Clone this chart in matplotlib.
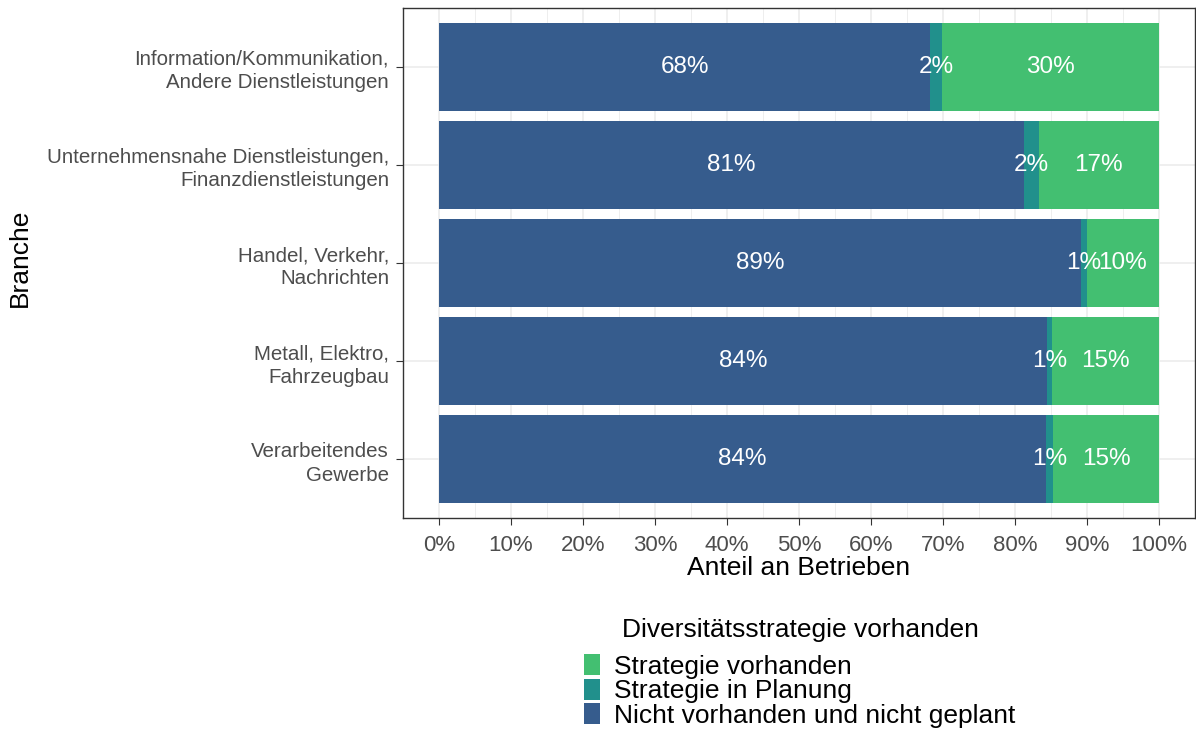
import numpy as np
import matplotlib
matplotlib.use("Agg")
import matplotlib.pyplot as plt
from matplotlib.ticker import MultipleLocator, FuncFormatter

plt.rcParams['font.family'] = ['Liberation Sans', 'DejaVu Sans']

# categories, top to bottom
branchen = [
    "Information/Kommunikation,\nAndere Dienstleistungen",
    "Unternehmensnahe Dienstleistungen,\nFinanzdienstleistungen",
    "Handel, Verkehr,\nNachrichten",
    "Metall, Elektro,\nFahrzeugbau",
    "Verarbeitendes\nGewerbe",
]
# shares in percent
nicht_vorhanden = [68.2, 81.3, 89.1, 84.4, 84.3]
in_planung = [1.7, 2.0, 0.9, 0.8, 1.0]
vorhanden = [30.1, 16.7, 10.0, 14.8, 14.7]

series = [
    ("Nicht vorhanden und nicht geplant", nicht_vorhanden, "#365C8D"),
    ("Strategie in Planung", in_planung, "#21908C"),
    ("Strategie vorhanden", vorhanden, "#43BF71"),
]

fig = plt.figure(figsize=(11.96, 7.29), dpi=100)
ax = fig.add_axes([403 / 1196, 211 / 729, 792 / 1196, 510 / 729])

ypos = np.arange(len(branchen))[::-1] + 1
left = np.zeros(len(branchen))
handles = []
for name, vals, col in series:
    vals = np.array(vals)
    b = ax.barh(ypos, vals, left=left, height=0.9, color=col, label=name, zorder=2)
    handles.append(b)
    for y, l, v in zip(ypos, left, vals):
        ax.text(l + v / 2, y, f"{round(v)}%", color="white", fontsize=17.5,
                ha="center", va="center", zorder=3)
    left = left + vals

ax.set_xlim(-5, 105)
ax.set_ylim(0.4, len(branchen) + 0.6)
ax.xaxis.set_major_locator(MultipleLocator(10))
ax.xaxis.set_minor_locator(MultipleLocator(5))
ax.xaxis.set_major_formatter(FuncFormatter(lambda v, p: f"{v:.0f}%"))
ax.set_yticks(ypos)
ax.set_yticklabels(branchen, linespacing=1.3)

ax.grid(which="major", color="#EBEBEB", linewidth=1.1, zorder=0)
ax.grid(which="minor", axis="x", color="#EBEBEB", linewidth=0.6, zorder=0)
ax.set_axisbelow(True)
for s in ax.spines.values():
    s.set_color("#333333")
    s.set_linewidth(1.0)

ax.tick_params(axis="x", which="major", labelsize=16, colors="#333333",
               labelcolor="#4D4D4D", length=5, pad=7)
ax.tick_params(axis="x", which="minor", length=0)
ax.tick_params(axis="y", labelsize=14.8, colors="#333333",
               labelcolor="#4D4D4D", length=5, pad=5)

ax.set_xlabel("Anteil an Betrieben", fontsize=19, color="black", labelpad=0)
fig.text(20 / 1196, 1 - 258 / 729, "Branche", rotation=90, fontsize=19,
         ha="center", va="center")

leg = fig.legend(handles[::-1], [h.get_label() for h in handles[::-1]],
                 loc="upper center", bbox_to_anchor=(800 / 1196, 1 - 607 / 729),
                 frameon=False, fontsize=19, title="Diversitätsstrategie vorhanden",
                 title_fontsize=19, handlelength=0.6, handleheight=0.85,
                 labelspacing=0.0, handletextpad=0.55, borderaxespad=0)
leg._legend_box.sep = 9

fig.savefig("out.png", dpi=100)
